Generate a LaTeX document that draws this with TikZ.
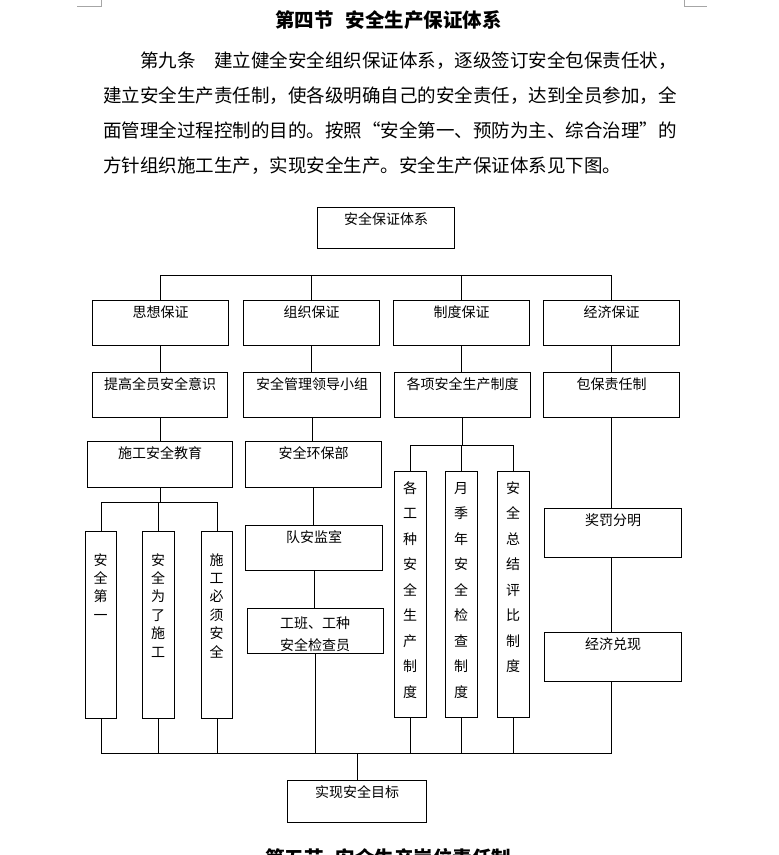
\documentclass[tikz,border=0pt]{standalone}
\usepackage{fontspec}
\setmainfont{Noto Sans CJK SC}
\XeTeXlinebreaklocale "zh"
\XeTeXlinebreakskip=0pt plus 1fil
\tikzset{
  box/.style={draw, line width=1.1pt, inner sep=0pt, anchor=north west},
  lbl/.style={font=\fontsize{14pt}{16pt}\selectfont, inner sep=0pt, anchor=base},
  para/.style={font=\fontsize{18.5pt}{22pt}\selectfont, inner sep=0pt, anchor=base west},
  ttl/.style={font=\fontsize{19.5pt}{22pt}\selectfont\bfseries, inner sep=0pt, anchor=base west},
  conn/.style={line width=1pt},
  cornermark/.style={draw=gray!70, line width=0.8pt}
}
\newcommand\mybox[6]{%
  \node[box, minimum width={(#4-#2)*1pt}, minimum height={(#5-#3)*1pt}] (#1) at (#2,#3) {};
  \node[lbl] (#1-t) at ([yshift=-17pt]#1.north) {#6};}
\newcommand\tallbox[5]{%
  \node[box, minimum width={(#4-#2)*1pt}, minimum height={(#5-#3)*1pt}] (#1) at (#2,#3) {};}
\newcommand\vstack[5]{%
  \foreach \c [count=\i from 0] in {#5} \node[lbl] (#1-\i) at (#2, {#3+\i*#4}) {\c};}
\begin{document}
\begin{tikzpicture}[x=1pt, y=-1pt]
\useasboundingbox (0,0) rectangle (779,855);
\fill[white] (0,0) rectangle (779,855);
\clip (0,0) rectangle (779,855);
% corner marks
\draw[cornermark] (77,6) -- (101,6) -- (101,0);
\draw[cornermark] (684,0) -- (684,6) -- (707,6);
% title and paragraph
\node[ttl] (title) at (275,27.5) {第四节\hspace{12pt}安全生产保证体系};
\node[para] (p1) at (140,67) {\makebox[538pt][s]{第九条　建立健全安全组织保证体系，逐级签订安全包保责任状，}};
\node[para] (p2) at (103,102) {\makebox[575pt][s]{建立安全生产责任制，使各级明确自己的安全责任，达到全员参加，全}};
\node[para] (p3) at (103,137) {\makebox[575pt][s]{面管理全过程控制的目的。按照“安全第一、预防为主、综合治理”的}};
\node[para] (p4) at (103,172) {\makebox[545pt][s]{方针组织施工生产，实现安全生产。安全生产保证体系见下图。}};
% boxes
\mybox{top}{317}{207}{454}{248}{安全保证体系}
\mybox{r1a}{92}{300}{228}{345}{思想保证}
\mybox{r1b}{243}{300}{379}{345}{组织保证}
\mybox{r1c}{393}{300}{529}{345}{制度保证}
\mybox{r1d}{543}{300}{679}{345}{经济保证}
\mybox{r2a}{92}{372}{227}{417}{提高全员安全意识}
\mybox{r2b}{243}{372}{380}{417}{安全管理领导小组}
\mybox{r2c}{394}{372}{530}{417}{各项安全生产制度}
\mybox{r2d}{543}{372}{679}{417}{包保责任制}
\mybox{r3a}{87}{441}{232}{487}{施工安全教育}
\mybox{r3b}{245}{441}{381}{487}{安全环保部}
\mybox{s1}{245}{525}{382}{570}{队安监室}
\tallbox{s2}{247}{608}{383}{653}
\node[lbl] (s2-t1) at (315,628) {工班、工种};
\node[lbl] (s2-t2) at (315,650) {安全检查员};
\mybox{e1}{544}{508}{681}{557}{奖罚分明}
\mybox{e2}{544}{632}{681}{681}{经济兑现}
\mybox{fin}{287}{780}{426}{822}{实现安全目标}
% tall boxes
\tallbox{t1}{85}{531}{116}{718}
\tallbox{t2}{142}{531}{174}{718}
\tallbox{t3}{201}{531}{232}{718}
\vstack{t1t}{100.5}{565}{18.4}{安,全,第,一}
\vstack{t2t}{158}{565}{18.4}{安,全,为,了,施,工}
\vstack{t3t}{216.5}{565}{18.4}{施,工,必,须,安,全}
\tallbox{c1}{394}{471}{426}{717}
\tallbox{c2}{445}{471}{477}{717}
\tallbox{c3}{497}{471}{529}{717}
\vstack{c1t}{410}{493}{25.5}{各,工,种,安,全,生,产,制,度}
\vstack{c2t}{461}{493}{25.5}{月,季,年,安,全,检,查,制,度}
\vstack{c3t}{513}{493}{25.5}{安,全,总,结,评,比,制,度}
% bus levels
\coordinate (busY) at (0,275);
\coordinate (b1Y) at (0,502);
\coordinate (b3Y) at (0,445);
\coordinate (botY) at (0,753);
% top bus
\draw[conn] (r1a.north |- busY) -- (r1d.north |- busY);
\foreach \n in {r1a,r1b,r1c,r1d} \draw[conn] (\n.north) -- (\n.north |- busY);
\foreach \a/\b in {r1a/r2a,r1b/r2b,r1c/r2c,r1d/r2d} \draw[conn] (\a.south) -- (\a.south |- \b.north);
% column 1
\draw[conn] (r2a.south) -- (r2a.south |- r3a.north);
\draw[conn] (r3a.south) -- (r3a.south |- b1Y);
\draw[conn] (t1.north |- b1Y) -- (t3.north |- b1Y);
\foreach \n in {t1,t2,t3} \draw[conn] (\n.north) -- (\n.north |- b1Y);
% column 2
\draw[conn] (r2b.south) -- (r2b.south |- r3b.north);
\draw[conn] (r3b.south) -- (r3b.south |- s1.north);
\draw[conn] (s1.south) -- (s1.south |- s2.north);
\draw[conn] (s2.south) -- (s2.south |- botY);
% column 3
\draw[conn] (r2c.south) -- (r2c.south |- b3Y);
\draw[conn] (c1.north |- b3Y) -- (c3.north |- b3Y);
\foreach \n in {c1,c2,c3} \draw[conn] (\n.north) -- (\n.north |- b3Y);
% column 4
\draw[conn] (r2d.south) -- (r2d.south |- e1.north);
\draw[conn] (r2d.south |- e1.south) -- (r2d.south |- e2.north);
\draw[conn] (r2d.south |- e2.south) -- (r2d.south |- botY);
% bottom bus
\draw[conn] (t1.south |- botY) -- (r2d.south |- botY);
\foreach \n in {t1,t2,t3,c1,c2,c3} \draw[conn] (\n.south) -- (\n.south |- botY);
\draw[conn] (fin.north |- botY) -- (fin.north);
% next section heading (cut off at the page edge, as in the reference)
\node[ttl] (next) at (265,865) {第五节\hspace{12pt}安全生产岗位责任制};
\end{tikzpicture}
\end{document}
